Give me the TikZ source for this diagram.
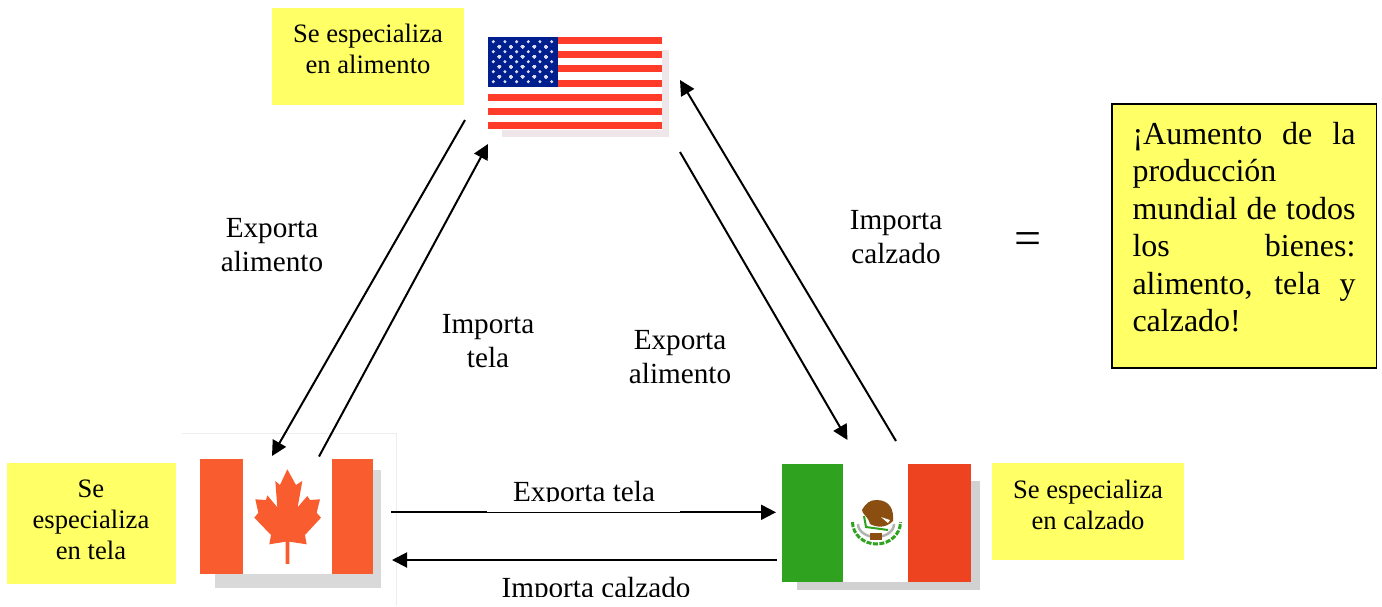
\documentclass[tikz,border=0pt]{standalone}
\usepackage{fontspec}
\setmainfont{Liberation Serif}
\usetikzlibrary{arrows.meta}
\definecolor{noteyellow}{HTML}{FFFF66}
\definecolor{usared}{HTML}{FF3B2A}
\definecolor{usablue}{HTML}{001F8F}
\definecolor{usashadow}{HTML}{EFE6EA}
\definecolor{canred}{HTML}{F95C2E}
\definecolor{mexgreen}{HTML}{2FA31F}
\definecolor{mexred}{HTML}{EE4320}
\definecolor{mexbrown}{HTML}{8A4E10}
\tikzset{
  arrowline/.style={line width=2pt,-{Triangle[length=15pt,width=15pt]}},
  notebox/.style={fill=noteyellow,anchor=north west,inner sep=0pt},
  notetext/.style={inner sep=0pt,align=center,font=\fontsize{26.6}{31}\selectfont},
  flowlabel/.style={inner sep=0pt,align=center,font=\fontsize{29.2}{34}\selectfont},
  flagframe/.style={inner sep=0pt,anchor=north west},
}
\begin{document}
\begin{tikzpicture}[x=1pt,y=-1pt]
    \newcommand{\usaStar}[2]{
        \fill[white!85!usablue] (#1,#2) circle (1.7pt);
    }
\useasboundingbox (0,0) rectangle (1382,606);
% flags
\fill[usashadow] (502,50) rectangle (669,137);
\fill[white] (488,37) rectangle (662,130);
\foreach \y in {37,51,65.3,80,94,108.3,122.3}
  \fill[usared] (488,\y) rectangle (662,\y+7);
\fill[usablue] (488,37) rectangle (557.5,86.7);
\foreach \row in {0,2,4,6,8}
  \foreach \col in {0,...,5}
    \usaStar{493.3+11.67*\col}{41.7+5*\row}
\foreach \row in {1,3,5,7}
  \foreach \col in {0,...,4}
    \usaStar{499.3+11.67*\col}{41.7+5*\row}
\node[flagframe,minimum width=181pt,minimum height=100pt] (usa) at (488,37) {};

\draw[black!7] (182,433) -- (396,433) -- (396,606);
\fill[black!15] (214.7,470) rectangle (381,588);
\fill[white] (243,459) rectangle (332,574);
\fill[canred] (200.3,459) rectangle (243,574);
\fill[canred] (332,459) rectangle (373.3,574);
\begin{scope}[shift={(170,420)},x=0.3333pt,y=-0.3333pt]
\fill[canred] (352,148) -- (378,195) -- (397,183) -- (383,262) -- (412,228) -- (420,240)
  -- (450,238) -- (440,278) -- (453,293) -- (405,345) -- (410,373) -- (358,365)
  -- (358,432) -- (347,432) -- (347,365) -- (298,373) -- (303,345) -- (253,293)
  -- (265,278) -- (256,238) -- (288,240) -- (292,226) -- (322,262) -- (316,183)
  -- (330,195) -- cycle;
\end{scope}
\node[flagframe,minimum width=214pt,minimum height=173pt] (canada) at (182,433) {};

\fill[black!18] (797.3,480.7) rectangle (980,590);
\fill[white] (842.7,464) rectangle (908.3,581.7);
\fill[mexgreen] (781.7,464) rectangle (842.7,581.7);
\fill[mexred] (908.3,464) rectangle (971.3,581.7);
\draw[black!30,line width=2.5pt] (858,524) arc[start angle=180,end angle=360,x radius=18pt,y radius=13pt];
\draw[mexgreen,line width=3pt,dash pattern=on 5pt off 1.5pt] (852.5,522) arc[start angle=180,end angle=360,x radius=24pt,y radius=22pt];
\draw[mexgreen,line width=2pt] (864,516) -- (866,527) -- (888,530);
\fill[mexbrown] (876.5,500) .. controls (890,500) and (894,510) .. (893,521)
  .. controls (885,529) and (876,527) .. (870,524) .. controls (868,516) and (862,514) .. (862,510)
  .. controls (866,503) and (870,500) .. (876.5,500);
\fill[white] (881,517) -- (890,520) -- (888,523) -- cycle;
\fill[mexbrown] (870,533) rectangle (882,540);
\node[flagframe,minimum width=199pt,minimum height=126pt] (mexico) at (781.7,464) {};

% notes
\node[notebox,minimum width=192pt,minimum height=97pt] (usabox) at (272,8) {};
\node[notetext] (usanote) at (368,49) {Se especializa\\en alimento};
\node[notebox,minimum width=169pt,minimum height=121pt] (canbox) at (7,463) {};
\node[notetext] (cannote) at (91,520) {Se\\especializa\\en tela};
\node[notebox,minimum width=192pt,minimum height=97pt] (mexbox) at (992,463) {};
\node[notetext] (mexnote) at (1088,505) {Se especializa\\en calzado};

% endpoints
\coordinate (usaout) at (465,120);
\coordinate (canin) at (272,456);
\coordinate (canout) at (319,456.5);
\coordinate (usain) at (488,144);
\coordinate (usaoutb) at (680,152);
\coordinate (mexin) at (847.5,440);
\coordinate (mexout) at (896,441);
\coordinate (usainb) at (680,80);
\coordinate (canoutb) at (391,512.3);
\coordinate (mexinb) at (776,512.3);
\coordinate (mexoutb) at (777,560);
\coordinate (caninb) at (392,560);

\draw[arrowline] (usaout) -- (canin);
\draw[arrowline] (canout) -- (usain);
\draw[arrowline] (usaoutb) -- (mexin);
\draw[arrowline] (mexout) -- (usainb);
\draw[arrowline] (canoutb) -- (mexinb);
\draw[arrowline] (mexoutb) -- (caninb);

% labels
\node[flowlabel] (expfood) at (272,245) {Exporta\\alimento};
\node[flowlabel] (impcloth) at (488,341) {Importa\\tela};
\node[flowlabel] (expfoodb) at (680,357) {Exporta\\alimento};
\node[flowlabel] (impshoes) at (896,237) {Importa\\calzado};
\node[flowlabel] (expcloth) at (584,494) {Exporta tela};
\fill[white] (487,502) rectangle (680,512);
\node[flowlabel] (impshoesb) at (596,590) {Importa calzado};
\fill[white] (480,597) rectangle (700,606);
\node[font=\fontsize{48}{48}\selectfont,inner sep=0pt] (equals) at (1028,244) {=};

\node[draw=black,line width=1.5pt,fill=noteyellow,minimum width=264.5pt,minimum height=264pt,inner sep=0pt] (resultbox) at (1244,235.8) {};
\node[inner sep=0pt,text width=223pt,align=justify,font=\fontsize{32}{37.5}\selectfont] (result) at (1244,227) {¡Aumento de la\linebreak producción\newline mundial de todos\linebreak los bienes:\linebreak alimento, tela y\linebreak calzado!};
\end{tikzpicture}
\end{document}
